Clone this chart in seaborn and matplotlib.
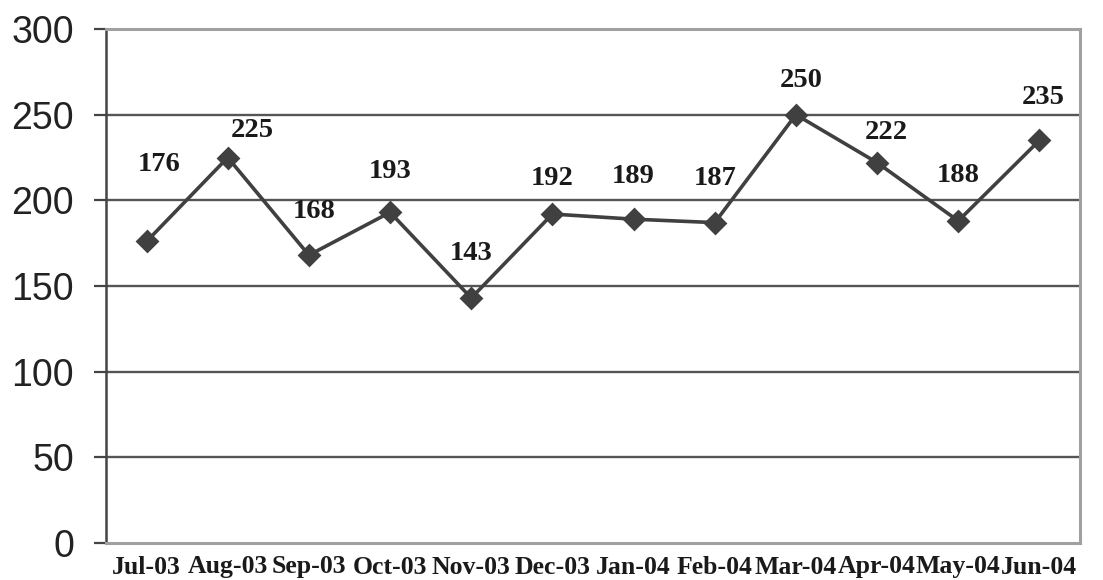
import matplotlib
matplotlib.use("Agg")
import matplotlib.pyplot as plt
import seaborn as sns
import pandas as pd

months = ["Jul-03", "Aug-03", "Sep-03", "Oct-03", "Nov-03", "Dec-03",
          "Jan-04", "Feb-04", "Mar-04", "Apr-04", "May-04", "Jun-04"]
counts = [176, 225, 168, 193, 143, 192, 189, 187, 250, 222, 188, 235]
y_ticks = [0, 50, 100, 150, 200, 250, 300]

# label offsets from each point, in pixels (dx, dy)
label_offsets = [(13, 77), (25, 27), (5, 44), (0, 41), (0, 44), (0, 36),
                 (0, 43), (0, 44), (5, 34), (9, 30), (0, 45), (4, 43)]

sns.set_theme(style="white")
plt.rcParams["font.family"] = ["Liberation Sans", "DejaVu Sans"]

df = pd.DataFrame({"month": months, "count": counts})

fig = plt.figure(figsize=(11.03, 5.80), dpi=100)
ax = fig.add_axes([106 / 1103, 37 / 580, (1080 - 106) / 1103, (543 - 29) / 580])

line_color = "#404040"
sns.pointplot(data=df, x="month", y="count", ax=ax, color=line_color,
              markers="D", linewidth=2.6, markersize=10.5, errorbar=None)

ax.set_xlim(-0.5, len(months) - 0.5)
ax.set_ylim(0, 300)
ax.set_yticks(y_ticks)
ax.set_xlabel("")
ax.set_ylabel("")

# horizontal gridlines
for v in y_ticks[1:-1]:
    ax.axhline(v, color="#555555", linewidth=1.7, zorder=0)

for side in ["top", "right", "bottom"]:
    ax.spines[side].set_color("#a0a0a0")
    ax.spines[side].set_linewidth(2.2)
ax.spines["left"].set_color("#444444")
ax.spines["left"].set_linewidth(1.8)

ax.tick_params(axis="y", which="major", left=True, length=9, width=1.6,
               color="#444444", pad=14, labelsize=27, labelcolor="#222222")
ax.tick_params(axis="x", bottom=False, pad=3)
for lbl in ax.get_xticklabels():
    lbl.set_fontfamily(["Liberation Serif", "DejaVu Serif"])
    lbl.set_fontweight("bold")
    lbl.set_fontsize(18.5)
    lbl.set_color("#1a1a1a")

for i, (v, (dx, dy)) in enumerate(zip(counts, label_offsets)):
    ax.annotate(str(v), (i, v), xytext=(dx * 0.72, dy * 0.72),
                textcoords="offset points", ha="center", va="center",
                fontfamily=["Liberation Serif", "DejaVu Serif"],
                fontweight="bold", fontsize=20.5, color="#1a1a1a")

fig.savefig("out.png", dpi=100)
